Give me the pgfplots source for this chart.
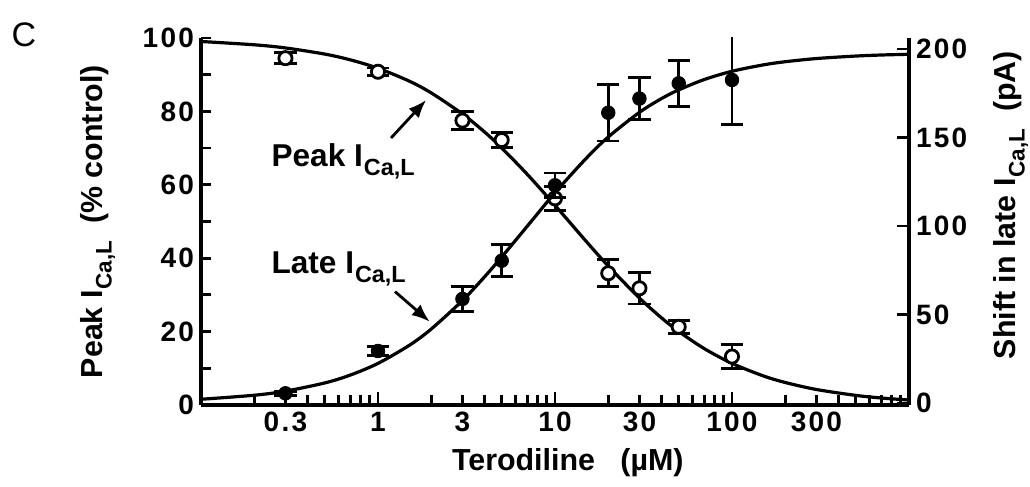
\documentclass[border=0pt]{standalone}
\usepackage{fontspec}
\setmainfont{Liberation Sans}
\newfontfamily\tickfont[LetterSpace=8]{Liberation Sans}
\usepackage{graphicx}
\usepackage{pgfplots}
\pgfplotsset{compat=1.18}
\usetikzlibrary{arrows.meta}
\newcommand{\ICaL}{I\kern0.03em\raisebox{-0.55ex}{\scalebox{0.74}{Ca,L}}}
\begin{document}
\begin{tikzpicture}
\pgfplotsset{
  every axis/.append style={
    scale only axis, width=354pt, height=183.5pt,
    xmode=log, xmin=0.1, xmax=1000,
    axis line style={line width=2pt},
    tick style={line width=1.4pt, black},
    /pgf/number format/assume math mode=true,
    tick label style={font=\fontsize{14}{16}\selectfont\bfseries\tickfont},
    label style={font=\fontsize{15.2}{17}\selectfont\bfseries},
    clip=true,
  },
  ebar/.style={error bars/.cd, y dir=both, y explicit,
    error bar style={line width=1.4pt},
    error mark options={line width=1.4pt, mark size=5.6pt, rotate=90}},
}
% Peak I_CaL (left axis)
\begin{axis}[
  axis x line*=bottom, axis y line*=left,
  ymin=0, ymax=100,
  ytick={0,20,...,100}, minor ytick={10,30,50,70,90},
  major tick length=4.8pt, minor tick length=4.8pt,
  xtick={0.3,1,3,10,30,100,300},
  xticklabels={0.3,1,3,10,30,100,300},
  minor xtick={0.2,0.4,0.5,0.6,0.7,0.8,0.9,2,4,5,6,7,8,9,20,40,50,60,70,80,90,200,400,500,600,700,800,900},
  extra x ticks={1,10,100}, extra x tick labels={,,},
  extra x tick style={major tick length=6.5pt},
  xlabel={Terodiline~~~(\textmu M)},
  ylabel={Peak \ICaL{}~~(\% control)},
  xlabel style={at={(axis description cs:0.518,-0.158)}, anchor=center},
  ylabel style={at={(axis description cs:-0.1455,0.5)}, anchor=center},
]
\addplot[line width=1.6pt, smooth] coordinates {
(0.1,99.05)(0.2,98.15)(0.3,97.29)(0.5,95.62)(0.7,94.03)(1,91.76)(1.5,88.26)
(2,85.03)(3,79.30)(4,74.40)(5,70.03)(7,62.77)(10,54.41)(15,44.60)(20,37.86)
(30,29.14)(40,23.73)(50,20.04)(70,15.31)(100,11.34)(150,7.94)(200,6.13)
(300,4.22)(500,2.62)(700,1.90)(1000,1.35)};
\addplot[only marks, mark=*, mark size=3.3pt, mark options={fill=white, draw=black, line width=1.4pt}, ebar]
 table[x=x, y=y, y error=e] {
x y e
0.3 94.5 1.5
1 90.8 1.0
3 77.5 2.5
5 72.2 2.0
10 56.3 3.2
20 35.9 3.7
30 31.8 4.3
50 21.3 1.8
100 13.2 3.3
};
\draw[-{Latex[length=9pt,width=7pt]}, line width=1.4pt] (axis cs:1.185,72.75) -- (axis cs:1.87,83.1);
\draw[-{Latex[length=9pt,width=7pt]}, line width=1.4pt] (axis cs:1.248,30.9) -- (axis cs:1.96,22.7);
\node[anchor=base west, font=\fontsize{15.8}{18}\selectfont\bfseries] at (axis cs:0.2285,64.9) {Peak \ICaL};
\node[anchor=base west, font=\fontsize{15.8}{18}\selectfont\bfseries] at (axis cs:0.2285,35.9) {Late \ICaL};
\end{axis}
% Late I_CaL (right axis)
\begin{axis}[
  axis x line=none, axis y line*=right,
  ymin=-1.1, ymax=206.2,
  ytick={0,50,...,200},
  major tick length=6pt,
  ylabel={Shift in late \ICaL{}~~(pA)},
  ylabel style={at={(axis description cs:1.144,0.545)}, anchor=center},
]
\addplot[line width=1.6pt, smooth] coordinates {
(0.1,2.13)(0.2,4.41)(0.3,6.73)(0.5,11.35)(0.7,15.86)(1,22.41)(1.5,32.56)
(2,41.83)(3,57.9)(4,71.3)(5,82.5)(7,100.1)(10,118.8)(15,138.2)(20,150.3)
(30,164.2)(40,172.0)(50,176.9)(70,182.8)(100,187.4)(150,191.0)(200,192.8)
(300,194.6)(500,196.0)(700,196.6)(1000,197.0)};
\addplot[only marks, mark=*, mark size=3.4pt, mark options={fill=black, draw=black}, ebar]
 table[x=x, y=y, y error=e] {
x y e
0.3 5.5 1.2
1 29.4 2.5
3 58.8 7
5 80.4 9
10 123 7
20 164 16
30 172 12
50 180.6 13
100 182.5 25
};
\end{axis}
\node[font=\fontsize{17}{20}\selectfont] at (-88.5pt,185pt) {C};
\pgfresetboundingbox
\useasboundingbox (-100.5pt,-41pt) rectangle (414.5pt,202.5pt);
\end{tikzpicture}
\end{document}
